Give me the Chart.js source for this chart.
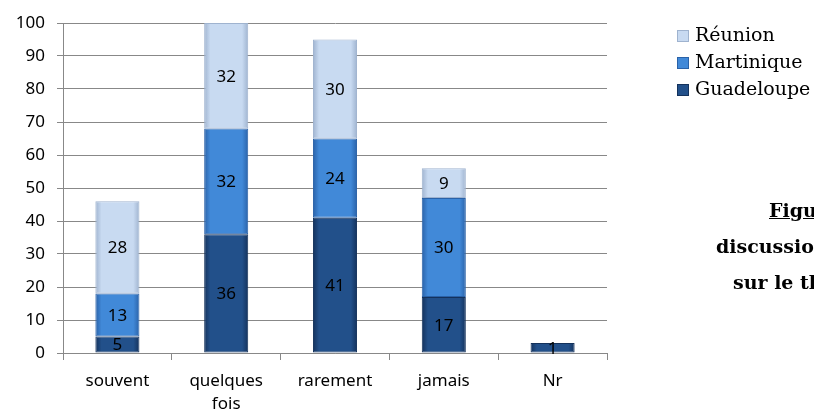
<!DOCTYPE html>
<html>
<head>
<meta charset="utf-8">
<script src="https://cdn.jsdelivr.net/npm/chart.js@4.4.1/dist/chart.umd.min.js"></script>
<style>
  html, body { margin: 0; padding: 0; background: #fff; overflow: hidden; }
  #wrap { position: relative; width: 814px; height: 414px; }
  #legend { position: absolute; left: 677px; top: 24px; font-family: "DejaVu Serif", serif; font-size: 19px; color: #000; }
  #legend div { height: 27px; line-height: 20px; white-space: nowrap; }
  #legend span.sw { display: inline-block; width: 12px; height: 12px; margin-right: 6px; vertical-align: -1px; }
  .side { position: absolute; font-family: "DejaVu Serif", serif; font-weight: bold; font-size: 19px; white-space: nowrap; color: #000; }
</style>
</head>
<body>
<div id="wrap">
  <canvas id="chart" width="814" height="414"></canvas>
  <div id="legend"></div>
  <div class="side" style="left:769px; top:199px; text-decoration: underline;">Figure</div>
  <div class="side" style="left:716px; top:235px;">discussions</div>
  <div class="side" style="left:733px; top:271px;">sur le thème</div>
</div>
<script>
const categories = ["souvent", ["quelques", "fois"], "rarement", "jamais", "Nr"];
const guadeloupe = [5, 36, 41, 17, 1];
const martinique = [13, 32, 24, 30, null];
const reunion = [28, 32, 30, 9, null];
const yTicks = [0, 10, 20, 30, 40, 50, 60, 70, 80, 90, 100];

// base colour, edge colour
const colors = {
  Guadeloupe: ["#22508a", "#14325c"],
  Martinique: ["#4189d8", "#2a62a8"],
  "Réunion": ["#c8daf1", "#9fb3cf"]
};

function barFill(base, edge) {
  return function (ctx) {
    const el = ctx.element;
    if (!el || !isFinite(el.x) || !isFinite(el.width)) return base;
    const g = ctx.chart.ctx.createLinearGradient(el.x - el.width / 2, 0, el.x + el.width / 2, 0);
    g.addColorStop(0, edge);
    g.addColorStop(0.14, base);
    g.addColorStop(0.86, base);
    g.addColorStop(1, edge);
    return g;
  };
}

function ds(label, data) {
  return {
    label: label,
    data: data,
    backgroundColor: barFill(colors[label][0], colors[label][1]),
    borderColor: colors[label][1],
    borderWidth: 1,
    borderSkipped: false,
    barPercentage: 0.405,
    categoryPercentage: 1
  };
}

// values written in the middle of each segment
const valueLabels = {
  id: "valueLabels",
  afterDatasetsDraw(chart) {
    const c = chart.ctx;
    c.save();
    c.font = "17px 'Noto Sans'";
    c.fillStyle = "#000";
    c.textAlign = "center";
    c.textBaseline = "middle";
    chart.data.datasets.forEach((d, di) => {
      chart.getDatasetMeta(di).data.forEach((bar, i) => {
        if (d.data[i] == null) return;
        const mid = (bar.y + bar.base) / 2;
        c.fillText(String(d.data[i]), bar.x, mid + 1);
      });
    });
    c.restore();
  }
};

const gDs = ds("Guadeloupe", guadeloupe);
gDs.minBarLength = 10;

const chart = new Chart(document.getElementById("chart"), {
  type: "bar",
  data: {
    labels: categories,
    datasets: [gDs, ds("Martinique", martinique), ds("Réunion", reunion)]
  },
  options: {
    responsive: false,
    animation: false,
    layout: { padding: { left: 0, right: 207, top: 23, bottom: 0 } },
    scales: {
      x: {
        stacked: true,
        offset: true,
        grid: { offset: true, drawOnChartArea: false, tickLength: 7, color: "#888" },
        border: { color: "#888" },
        ticks: { color: "#000", font: { family: "Noto Sans", size: 17, lineHeight: 1.35 }, padding: 10, maxRotation: 0 },
        afterFit(scale) { scale.height = 61; }
      },
      y: {
        stacked: true,
        min: 0,
        max: 100,
        afterBuildTicks(scale) { scale.ticks = yTicks.map(v => ({ value: v })); },
        grid: { color: "#888", tickLength: 6 },
        border: { color: "#888" },
        ticks: { color: "#000", font: { family: "Noto Sans", size: 17 }, padding: 12 },
        afterFit(scale) { scale.width = 63; }
      }
    },
    plugins: {
      legend: { display: false },
      tooltip: { enabled: false }
    }
  },
  plugins: [valueLabels]
});
chart.update();

const leg = document.getElementById("legend");
chart.data.datasets.slice().reverse().forEach(d => {
  const row = document.createElement("div");
  row.innerHTML = `<span class="sw" style="background:${colors[d.label][0]}; border:1px solid ${colors[d.label][1]}; box-sizing:border-box;"></span>${d.label}`;
  leg.appendChild(row);
});
</script>
</body>
</html>
